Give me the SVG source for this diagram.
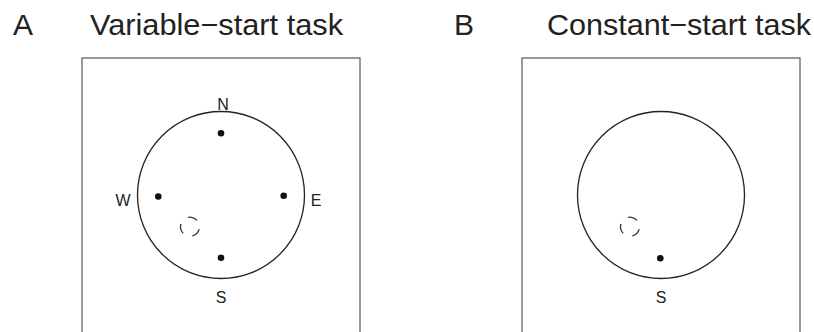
<svg xmlns="http://www.w3.org/2000/svg" width="814" height="332" viewBox="0 0 814 332">
<style>
.title{font-family:"Liberation Sans",Arial,sans-serif;font-size:30px;fill:#222}
.lbl{font-family:"Liberation Sans",Arial,sans-serif;font-size:16px;fill:#222;text-anchor:middle}
.box{fill:none;stroke:#555;stroke-width:1.2}
.arena{fill:none;stroke:#222;stroke-width:1.3}
.dot{fill:#111}
.start{fill:none;stroke:#333;stroke-width:1.3;stroke-dasharray:10 10}
</style>
<rect width="814" height="332" fill="#fff"/>
<g id="panelA">
  <text class="title" x="13" y="35">A</text>
  <text class="title" x="90" y="35" textLength="253" lengthAdjust="spacingAndGlyphs">Variable−start task</text>
  <rect class="box" x="82" y="58" width="278" height="300"/>
  <circle class="arena" cx="221" cy="195" r="83.5"/>
  <circle class="dot" cx="221" cy="133.3" r="3.3"/>
  <circle class="dot" cx="158.3" cy="196.5" r="3.3"/>
  <circle class="dot" cx="283.7" cy="195.7" r="3.3"/>
  <circle class="dot" cx="221" cy="257.7" r="3.3"/>
  <circle class="start" cx="190" cy="226.7" r="9.5" transform="rotate(15 190 226.7)"/>
  <text class="lbl" x="223" y="109.5">N</text>
  <text class="lbl" x="123" y="205.5">W</text>
  <text class="lbl" x="316" y="205.5">E</text>
  <text class="lbl" x="221" y="303">S</text>
</g>
<g id="panelB">
  <text class="title" x="454" y="35">B</text>
  <text class="title" x="547" y="35" textLength="264" lengthAdjust="spacingAndGlyphs">Constant−start task</text>
  <rect class="box" x="522" y="58" width="278" height="300"/>
  <circle class="arena" cx="661" cy="195" r="83.5"/>
  <circle class="dot" cx="660.3" cy="258.3" r="3.3"/>
  <circle class="start" cx="630" cy="226.7" r="9.5" transform="rotate(15 630 226.7)"/>
  <text class="lbl" x="661" y="303">S</text>
</g>
<g id="connectors"></g>
</svg>
